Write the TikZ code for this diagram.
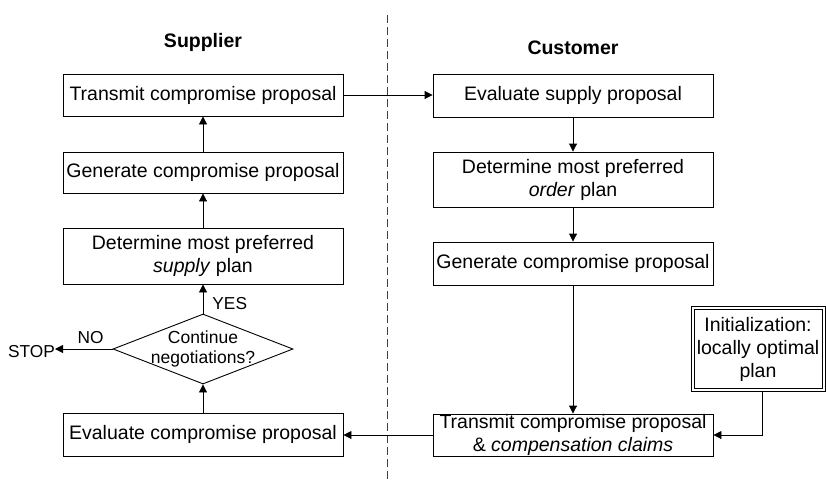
\documentclass[tikz,border=0pt]{standalone}
\usepackage{fontspec}
\setmainfont{Liberation Sans}
\usetikzlibrary{shapes.geometric,arrows.meta}

\begin{document}
\begin{tikzpicture}[x=1pt,y=-1pt,
    box/.style={draw, line width=0.9pt, minimum width=280pt, inner sep=0pt,
        align=center, font=\fontsize{19.5}{23}\selectfont},
    decision/.style={draw, diamond, aspect=2.57, line width=0.9pt, inner sep=-8pt,
        minimum width=180pt, minimum height=70pt, align=center,
        font=\fontsize{17.5}{20}\selectfont},
    initbox/.style={draw, double, double distance=2pt, line width=1pt,
        minimum width=131pt, minimum height=82pt, inner sep=0pt, align=center,
        font=\fontsize{19.5}{23}\selectfont},
    label/.style={font=\fontsize{17.3}{20}\selectfont, inner sep=0pt},
    head/.style={font=\fontsize{19.5}{23}\selectfont\bfseries, inner sep=0pt},
    flow/.style={line width=0.9pt, -{Triangle[length=8pt,width=8pt]}}]
    \useasboundingbox (0,0) rectangle (826,479);

    % Divider
    \coordinate (divtop) at (387,15);
    \coordinate (divbot) at (387,479);
    \draw[line width=0.8pt, black!75, dash pattern=on 8pt off 4pt] (divtop) -- (divbot);

    % Headers
    \node[head] (supplier) at (203,42) {Supplier};
    \node[head] (customer) at (573,48) {Customer};

    % Supplier side
    \node[box, minimum height=42pt] (sT) at (203,95) {Transmit compromise proposal};
    \node[box, minimum height=41pt] (sG) at (203,172.5) {Generate compromise proposal};
    \node[box, minimum height=56pt] (sD) at (203,256) {Determine most preferred\\\textit{supply} plan};
    \node[decision] (dec) at (203,349) {Continue\\negotiations?};
    \node[box, minimum height=43pt] (sE) at (203,434.5) {Evaluate compromise proposal};
    \node[label, anchor=east] (stop) at (55,352) {STOP};

    % Customer side
    \node[box, minimum height=43pt] (cE) at (573,95.5) {Evaluate supply proposal};
    \node[box, minimum height=55pt] (cD) at (573,179.5) {Determine most preferred\\\textit{order} plan};
    \node[box, minimum height=43pt] (cG) at (573,263.5) {Generate compromise proposal};
    \node[box, minimum height=42pt] (cT) at (573,435) {Transmit compromise proposal\\\& \textit{compensation claims}};
    \node[initbox] (init) at (758,349.3) {Initialization:\\locally optimal\\plan};

    % Connectors
    \draw[flow] (sT.east) -- (cE.west |- sT.east);
    \draw[flow] (cE) -- (cD);
    \draw[flow] (cD) -- (cG);
    \draw[flow] (cG) -- (cT);
    \draw[flow] ([xshift=4pt]init.south) |- (cT.east);
    \draw[flow] (cT.west) -- (sE.east |- cT.west);
    \draw[flow] (sE) -- (dec);
    \draw[flow] (dec) -- (sD) node[label, pos=0.35, right=9pt] {YES};
    \draw[flow] (sD) -- (sG);
    \draw[flow] (sG) -- (sT);
    \draw[flow] (dec.west) -- (stop.east |- dec.west) node[label, pos=0.38, above=5pt] {NO};
\end{tikzpicture}
\end{document}
